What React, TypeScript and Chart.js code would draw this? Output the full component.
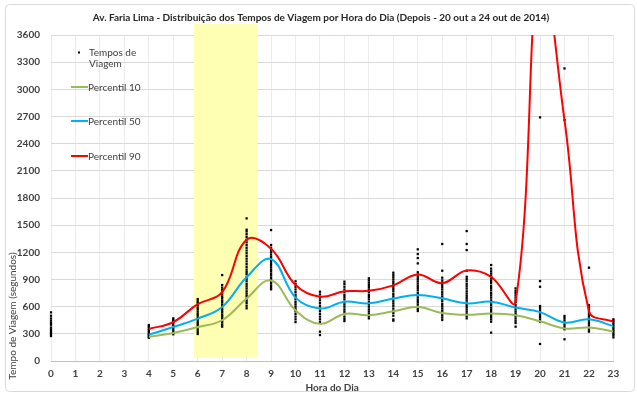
import { useEffect, useRef } from 'react';
import { Chart, registerables } from 'chart.js';

Chart.register(...registerables);

const TITLE = 'Av. Faria Lima - Distribuição dos Tempos de Viagem por Hora do Dia (Depois - 20 out a 24 out de 2014)';
const X_TITLE = 'Hora do Dia';
const Y_TITLE = 'Tempo de Viagem (segundos)';

const LINE_HOURS = [4, 5, 6, 7, 8, 9, 10, 11, 12, 13, 14, 15, 16, 17, 18, 19, 20, 21, 22, 23];
const P10 = [268, 310, 375, 450, 690, 890, 560, 410, 520, 505, 550, 595, 530, 510, 525, 505, 438, 360, 370, 325];
const P50 = [290, 375, 468, 597, 925, 1125, 700, 580, 655, 637, 690, 730, 692, 637, 655, 590, 540, 425, 460, 385];
const P90 = [353, 430, 627, 760, 1340, 1240, 840, 710, 770, 775, 835, 955, 860, 1000, 930, 655, 4400, 2660, 550, 435];

const TRAVEL_HOURS = [0, 4, 5, 6, 7, 8, 9, 10, 11, 12, 13, 14, 15, 16, 17, 18, 19, 20, 21, 22, 23];
const TRAVEL_VALUES = [
  [276, 295, 310, 330, 350, 370, 400, 420, 445, 470, 500, 537],
  [257, 270, 285, 300, 320, 340, 360, 380, 397],
  [295, 310, 325, 345, 365, 380, 400, 420, 440, 455, 471],
  [298, 320, 345, 370, 390, 410, 430, 455, 475, 500, 520, 545, 570, 590, 615, 640, 660, 684],
  [379, 400, 425, 445, 470, 490, 510, 535, 555, 575, 600, 620, 645, 665, 690, 710, 735, 760, 785, 810, 839, 949],
  [582, 610, 640, 665, 690, 720, 745, 770, 800, 825, 850, 880, 905, 930, 960, 985, 1010, 1040, 1070, 1100, 1130, 1160, 1190, 1220, 1250, 1280, 1310, 1340, 1370, 1400, 1430, 1450, 1575],
  [791, 810, 830, 855, 875, 900, 920, 945, 965, 990, 1010, 1035, 1060, 1080, 1105, 1130, 1150, 1175, 1200, 1225, 1250, 1281, 1446],
  [430, 460, 490, 520, 550, 575, 600, 625, 650, 680, 705, 730, 760, 790, 820, 850, 880],
  [287, 324, 430, 460, 490, 520, 550, 580, 610, 640, 670, 700, 735, 765],
  [441, 465, 490, 520, 545, 570, 600, 625, 650, 680, 705, 730, 760, 790, 820, 850, 876],
  [471, 495, 520, 545, 570, 600, 625, 650, 680, 705, 730, 760, 790, 815, 840, 865, 890, 913],
  [445, 460, 500, 530, 555, 580, 610, 635, 660, 690, 715, 740, 770, 795, 820, 850, 875, 900, 925, 950, 975],
  [552, 575, 600, 625, 650, 675, 700, 725, 750, 780, 805, 830, 855, 880, 905, 930, 955, 980, 1078, 1137, 1181, 1233],
  [453, 480, 505, 530, 555, 580, 605, 630, 660, 685, 710, 735, 760, 790, 815, 840, 865, 890, 920, 997, 1292],
  [471, 495, 520, 545, 570, 595, 620, 645, 670, 695, 720, 745, 770, 800, 825, 850, 880, 905, 930, 997, 1225, 1292, 1435],
  [313, 434, 460, 485, 510, 540, 565, 590, 620, 645, 670, 700, 725, 750, 780, 805, 830, 860, 885, 910, 940, 965, 990, 1020, 1060],
  [379, 420, 445, 470, 495, 520, 545, 570, 595, 620, 650, 675, 700, 725, 750, 775, 802],
  [188, 434, 460, 485, 510, 535, 560, 585, 607, 820, 883, 2690],
  [240, 350, 375, 400, 425, 450, 475, 497, 2660, 3231],
  [324, 345, 370, 395, 420, 445, 470, 495, 520, 545, 570, 595, 618, 1030],
  [261, 285, 305, 325, 345, 365, 385, 405, 425, 445, 460],
];

const BAND_HOURS = [5.85, 8.45];
const BAND_VALUES = [40, 3720];

const FONT = 'Lato, "Open Sans", sans-serif';
const TEXT = '#404040';

export default function App() {
  const ref = useRef<HTMLCanvasElement | null>(null);

  useEffect(() => {
    if (!ref.current) return;
    const points: { x: number; y: number }[] = [];
    TRAVEL_HOURS.forEach((h, i) => TRAVEL_VALUES[i].forEach((v) => points.push({ x: h, y: v })));
    const toXY = (vals: number[]) => vals.map((v, i) => ({ x: LINE_HOURS[i], y: v }));

    const decor = {
      id: 'decor',
      beforeDatasetsDraw(chart: any) {
        const { ctx, scales } = chart;
        const x0 = scales.x.getPixelForValue(BAND_HOURS[0]);
        const x1 = scales.x.getPixelForValue(BAND_HOURS[1]);
        const y0 = scales.y.getPixelForValue(BAND_VALUES[1]);
        const y1 = scales.y.getPixelForValue(BAND_VALUES[0]);
        ctx.save();
        ctx.fillStyle = '#ffffb3';
        ctx.fillRect(x0, y0, x1 - x0, y1 - y0);
        ctx.restore();
      },
      afterDraw(chart: any) {
        const { ctx, chartArea } = chart;
        ctx.save();
        ctx.strokeStyle = '#d9d9d9';
        ctx.lineWidth = 1;
        ctx.beginPath();
        (ctx as any).roundRect(5.5, 4.5, 629, 387, 4);
        ctx.stroke();
        ctx.fillStyle = '#262626';
        ctx.font = `bold 10px ${FONT}`;
        ctx.textAlign = 'center';
        ctx.textBaseline = 'middle';
        ctx.fillText(TITLE, 321, 18);
        ctx.fillStyle = TEXT;
        ctx.font = `bold 10px ${FONT}`;
        ctx.fillText(X_TITLE, (chartArea.left + chartArea.right) / 2, 388);
        ctx.save();
        ctx.translate(13, 316);
        ctx.rotate(-Math.PI / 2);
        ctx.font = `10px ${FONT}`;
        ctx.fillText(Y_TITLE, 0, 0);
        ctx.restore();
        const ds = chart.data.datasets;
        ctx.textAlign = 'left';
        ctx.font = `10px ${FONT}`;
        ctx.fillStyle = '#000';
        ctx.fillRect(78, 51.5, 2, 2);
        ctx.fillStyle = TEXT;
        const words = String(ds[3].label).split(' ');
        ctx.fillText(words.slice(0, 2).join(' '), 89, 53);
        ctx.fillText(words.slice(2).join(' '), 89, 64);
        const rows = [
          [0, 87],
          [1, 121],
          [2, 156],
        ];
        rows.forEach(([i, y]) => {
          ctx.strokeStyle = ds[i].borderColor;
          ctx.lineWidth = 2;
          ctx.beginPath();
          ctx.moveTo(71, y);
          ctx.lineTo(88, y);
          ctx.stroke();
          ctx.fillStyle = TEXT;
          ctx.fillText(ds[i].label, 88, y + 0.5);
        });
        ctx.restore();
      },
    };

    const chart = new Chart(ref.current, {
      type: 'scatter',
      data: {
        datasets: [
          { label: 'Percentil 10', data: toXY(P10), showLine: true, borderColor: '#9bbb59', borderWidth: 2, pointRadius: 0, tension: 0.4, order: 0 },
          { label: 'Percentil 50', data: toXY(P50), showLine: true, borderColor: '#00b0f0', borderWidth: 2, pointRadius: 0, tension: 0.4, order: 0 },
          { label: 'Percentil 90', data: toXY(P90), showLine: true, borderColor: '#ff0000', borderWidth: 2, pointRadius: 0, tension: 0.4, order: 0 },
          {
            label: 'Tempos de Viagem',
            data: points,
            backgroundColor: '#000',
            borderWidth: 0,
            pointStyle: 'rect',
            pointRadius: 1.6,
            order: 1,
            clip: false,
          },
        ],
      },
      options: {
        responsive: false,
        animation: false,
        devicePixelRatio: 1,
        layout: { padding: { left: 0, right: 23.6, top: 35, bottom: 0 } },
        elements: { line: { capBezierPoints: false } },
        plugins: { legend: { display: false }, tooltip: { enabled: false }, title: { display: false } },
        scales: {
          x: {
            type: 'linear',
            min: 0,
            max: 23,
            afterFit: (s: any) => {
              s.height = 34;
            },
            ticks: { stepSize: 1, color: TEXT, font: { family: FONT, size: 10, weight: 'bold' }, padding: 7, maxRotation: 0 },
            grid: { color: '#ececec', drawTicks: false },
            border: { color: '#bfbfbf' },
          },
          y: {
            min: 0,
            max: 3600,
            afterFit: (s: any) => {
              s.width = 51;
            },
            ticks: {
              stepSize: 300,
              color: TEXT,
              font: { family: FONT, size: 10, weight: 'bold' },
              padding: 11,
              callback: (v: any) => String(v),
            },
            grid: { color: '#d9d9d9', drawTicks: false },
            border: { display: false },
          },
        },
      },
      plugins: [decor],
    } as any);
    return () => chart.destroy();
  }, []);

  return (
    <div style={{ position: 'fixed', left: 0, top: 0, width: 637, height: 395, background: '#fff' }}>
      <canvas ref={ref} width={637} height={395} style={{ display: 'block' }} />
    </div>
  );
}
